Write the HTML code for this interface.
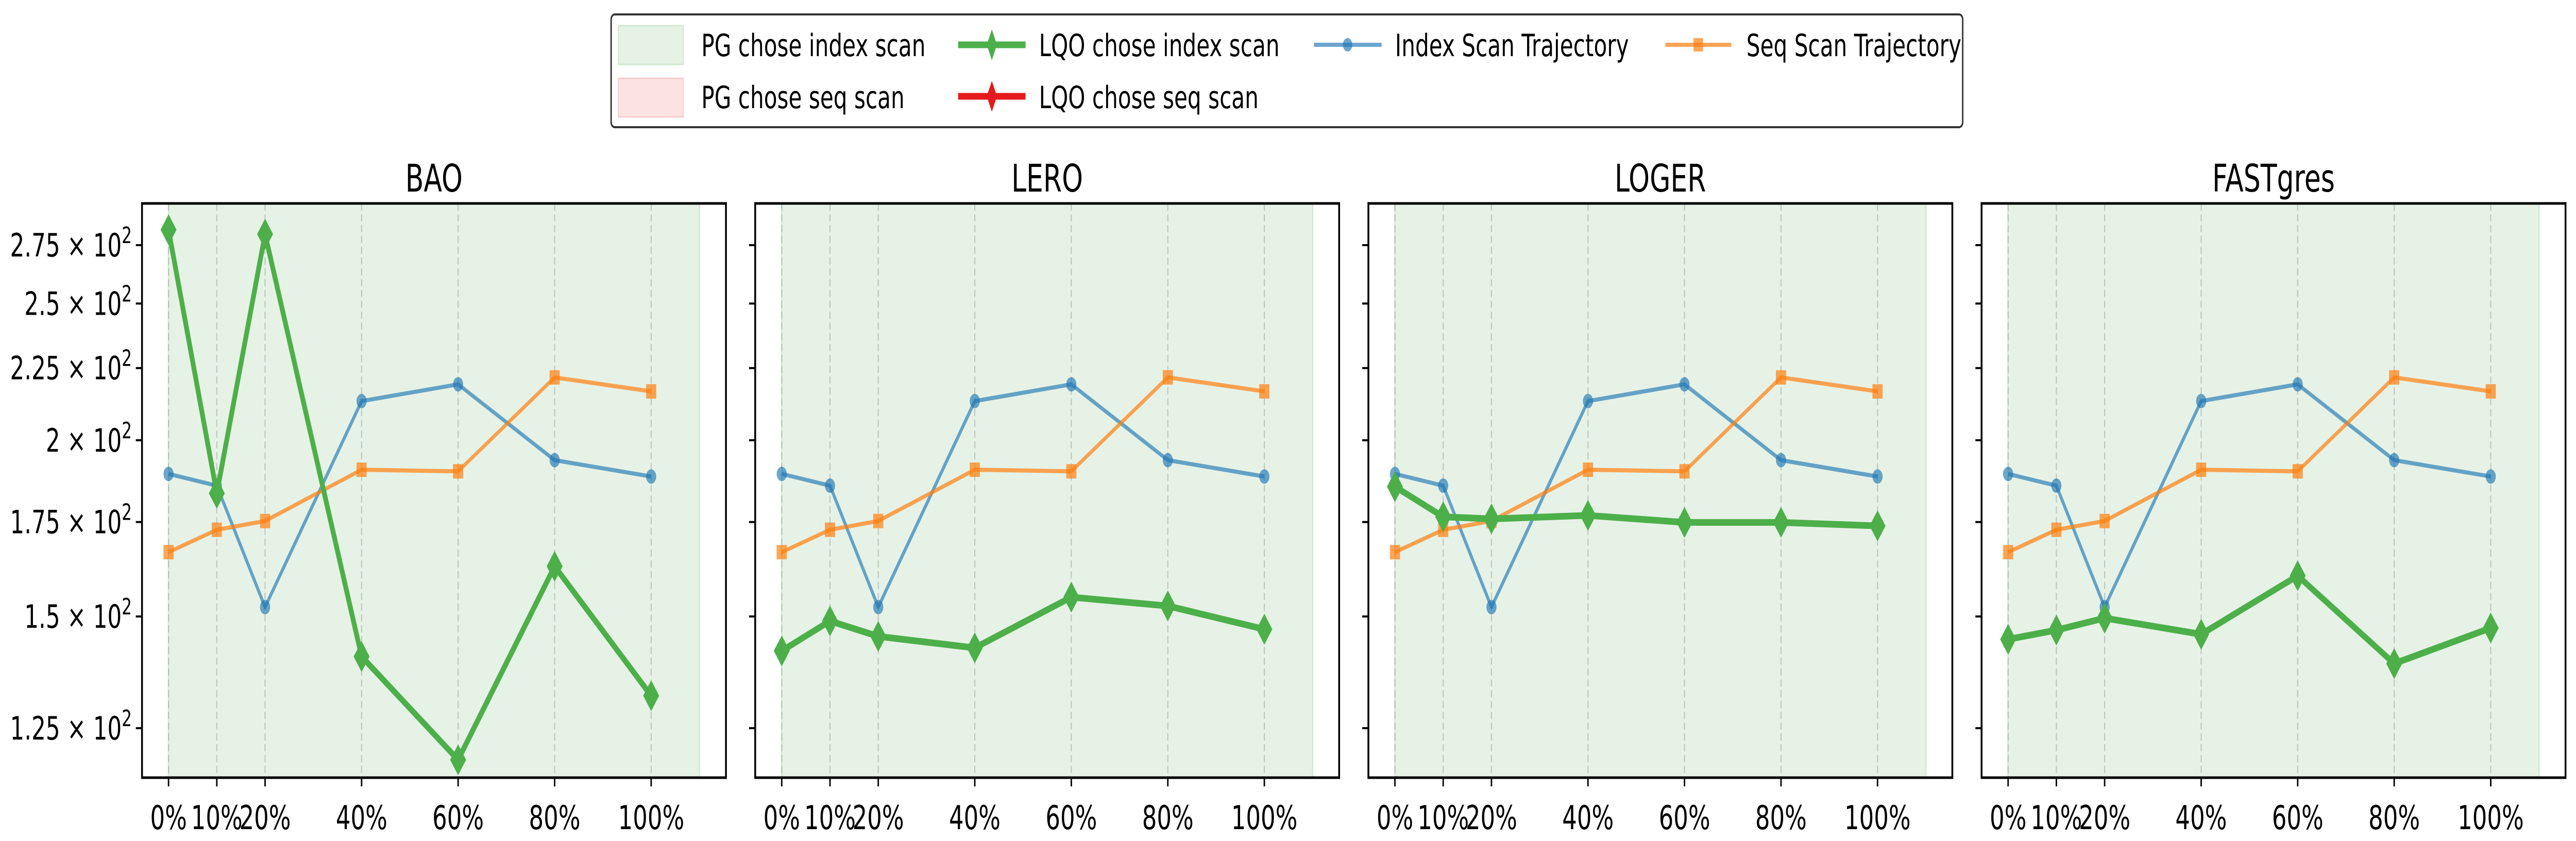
<!DOCTYPE html>
<html><head><meta charset="utf-8">
<style>
html,body{margin:0;padding:0;background:#fff;overflow:hidden;width:100vw;height:100vh;}
svg{display:block;width:100vw;height:100vh;font-family:"DejaVu Sans","Liberation Sans",sans-serif;}
</style></head>
<body>
<svg id="chart" viewBox="0 0 7111 1633" preserveAspectRatio="none" xmlns="http://www.w3.org/2000/svg">
  <g>
    <rect x="1687" y="28" width="3731" height="219" rx="10" fill="#fff" stroke="#333" stroke-width="4"/>
    <g>
      <rect x="1707" y="50" width="179" height="75" fill="#e6f2e6" stroke="#cfe8cf" stroke-width="3"/>
      <text x="1936" y="109" font-size="60">PG chose index scan</text>
    </g>
    <g>
      <rect x="1707" y="152" width="179" height="75" fill="#fbe3e4" stroke="#f7cdd0" stroke-width="3"/>
      <text x="1936" y="210" font-size="60">PG chose seq scan</text>
    </g>
    <g>
      <line x1="2645" y1="87" x2="2831" y2="87" stroke="#4daf4a" stroke-width="13"/>
      <polygon points="2738,57 2752,87 2738,117 2724,87" fill="#4daf4a"/>
      <text x="2868" y="109" font-size="60">LQO chose index scan</text>
    </g>
    <g>
      <line x1="2645" y1="187" x2="2831" y2="187" stroke="#e41a1c" stroke-width="13"/>
      <polygon points="2738,157 2752,187 2738,217 2724,187" fill="#e41a1c"/>
      <text x="2868" y="210" font-size="60">LQO chose seq scan</text>
    </g>
    <g>
      <line x1="3627" y1="87" x2="3814" y2="87" stroke="#1f77b4" stroke-opacity="0.65" stroke-width="8"/>
      <circle cx="3720" cy="87" r="13" fill="#1f77b4" fill-opacity="0.65"/>
      <text x="3851" y="109" font-size="60">Index Scan Trajectory</text>
    </g>
    <g>
      <line x1="4597" y1="87" x2="4779" y2="87" stroke="#ff7f0e" stroke-opacity="0.7" stroke-width="8"/>
      <rect x="4675" y="74" width="26" height="26" fill="#ff7f0e" fill-opacity="0.7"/>
      <text x="4821" y="109" font-size="60">Seq Scan Trajectory</text>
    </g>
  </g>
  <g id="panels"></g>
</svg>
<script>
const categories = [0, 10, 20, 40, 60, 80, 100];
const tickLabels = ["0%", "10%", "20%", "40%", "60%", "80%", "100%"];
const yTickValues = [125, 150, 175, 200, 225, 250, 275];
const yTickLabels = ["1.25", "1.5", "1.75", "2", "2.25", "2.5", "2.75"];
const panelTitles = ["BAO", "LERO", "LOGER", "FASTgres"];
const indexScan = [189.3, 185.7, 152.3, 213.2, 219.1, 193.6, 188.5];
const seqScan = [166.6, 172.8, 175.3, 190.6, 190.1, 221.6, 216.6];
const lqoBao = [282, 183.4, 280, 140.5, 118.7, 162.8, 131.8];
const lqoLero = [141.8, 148.9, 145.2, 142.5, 154.8, 152.6, 146.9];
const lqoLoger = [185.4, 176.5, 175.9, 176.9, 174.9, 174.9, 173.9];
const lqoFastgres = [144.5, 146.7, 149.6, 145.7, 160.3, 138.9, 147.2];
const lqoSeries = [lqoBao, lqoLero, lqoLoger, lqoFastgres];
const shadeStart = 0, shadeEnd = 110;

const NS = "http://www.w3.org/2000/svg";
const root = document.getElementById("panels");
const AX_TOP = 395, AX_BOT = 1510, AX_W = 1612, PITCH = 1692.7, AX_L0 = 392;
const XMIN = -5.5, XMAX = 115.5;
const Y_REF = 275, Y_REF_PX = 476, PX_PER_DEX = 2739;

function mk(tag, attrs, parent) {
  const e = document.createElementNS(NS, tag);
  for (const k in attrs) e.setAttribute(k, attrs[k]);
  parent.appendChild(e);
  return e;
}
function yScale(v) { return Y_REF_PX + PX_PER_DEX * (Math.log10(Y_REF) - Math.log10(v)); }

panelTitles.forEach((title, p) => {
  const left = AX_L0 + p * PITCH;
  const xScale = v => left + (v - XMIN) / (XMAX - XMIN) * AX_W;
  const g = mk("g", {}, root);
  
  

  const clipId = "clip" + p;
  const cp = mk("clipPath", {id: clipId}, g);
  mk("rect", {x: left, y: AX_TOP, width: AX_W, height: AX_BOT - AX_TOP}, cp);

  const shade = mk("rect", {x: xScale(shadeStart), y: AX_TOP, width: xScale(shadeEnd) - xScale(shadeStart), height: AX_BOT - AX_TOP, fill: "#e6f2e6", stroke: "#d3ead3", "stroke-width": 4}, g);
  
  

  categories.forEach((c, i) => {
    const gl = mk("line", {x1: xScale(c), x2: xScale(c), y1: AX_TOP, y2: AX_BOT, stroke: "#9a9a9a", "stroke-opacity": 0.5, "stroke-width": 3, "stroke-dasharray": "14,7"}, g);
    
    
  });

  const plot = mk("g", {"clip-path": "url(#" + clipId + ")"}, g);

  function drawLine(vals, color, opacity, width, name) {
    const pts = vals.map((v, i) => xScale(categories[i]) + "," + yScale(v)).join(" ");
    const pl = mk("polyline", {points: pts, fill: "none", stroke: color, "stroke-opacity": opacity, "stroke-width": width, "stroke-linejoin": "round"}, plot);
    
    
  }
  drawLine(indexScan, "#1f77b4", 0.65, 8, "index-scan-line");
  indexScan.forEach((v, i) => {
    const c = mk("circle", {cx: xScale(categories[i]), cy: yScale(v), r: 14, fill: "#1f77b4", "fill-opacity": 0.65}, plot);
    
    
  });
  drawLine(seqScan, "#ff7f0e", 0.7, 8, "seq-scan-line");
  seqScan.forEach((v, i) => {
    const s = mk("rect", {x: xScale(categories[i]) - 14, y: yScale(v) - 14, width: 28, height: 28, fill: "#ff7f0e", "fill-opacity": 0.7}, plot);
    
    
  });
  const lqo = lqoSeries[p];
  drawLine(lqo, "#4daf4a", 1, 13, "lqo-line");
  lqo.forEach((v, i) => {
    const x = xScale(categories[i]), y = yScale(v);
    const d = mk("polygon", {points: `${x},${y-30} ${x+22},${y} ${x},${y+30} ${x-22},${y}`, fill: "#4daf4a"}, plot);
    
    
  });

  const frame = mk("rect", {x: left, y: AX_TOP, width: AX_W, height: AX_BOT - AX_TOP, fill: "none", stroke: "#000", "stroke-width": 5}, g);
  
  

  const t = mk("text", {x: left + AX_W / 2, y: 372, "font-size": 74, "text-anchor": "middle"}, g);
  t.textContent = title;
  
  

  categories.forEach((c, i) => {
    mk("line", {x1: xScale(c), x2: xScale(c), y1: AX_BOT, y2: AX_BOT + 17, stroke: "#000", "stroke-width": 4}, g);
    const lab = mk("text", {x: xScale(c), y: AX_BOT + 100, "font-size": 64, "text-anchor": "middle"}, g);
    lab.textContent = tickLabels[i];
    
    
  });

  yTickValues.forEach((v, i) => {
    const y = yScale(v);
    mk("line", {x1: left - 17, x2: left, y1: y, y2: y, stroke: "#000", "stroke-width": 4}, g);
    if (p === 0) {
      const lab = mk("text", {x: left - 28, y: y + 22, "font-size": 62, "text-anchor": "end"}, g);
      
      
      const a = mk("tspan", {}, lab); a.textContent = yTickLabels[i] + " \u00d7 10";
      const b = mk("tspan", {"font-size": 44, dy: -26}, lab); b.textContent = "2";
    }
  });
});
</script>
</body></html>
